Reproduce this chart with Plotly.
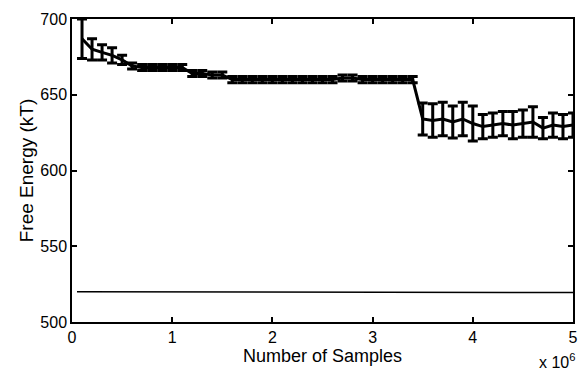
import plotly.graph_objects as go

# Sample counts (x 10^6) at which the free energy estimate was recorded
samples_millions = [i / 10 for i in range(1, 51)]

# Free energy estimate (kT) and its error-bar half-width
free_energy = [
    687, 680, 678, 676, 673, 669, 668, 668, 668, 668,
    668, 664, 664, 663, 663, 660, 660, 660, 660, 660,
    660, 660, 660, 660, 660, 660, 661, 661, 660, 660,
    660, 660, 660, 660, 634, 633, 634, 632, 634, 631,
    629, 630, 631, 630, 631, 632, 628, 630, 629, 630,
]
free_energy_err = [
    13, 7, 5, 5, 3, 2, 2, 2, 2, 2,
    2, 2, 2, 2, 2, 2, 2, 2, 2, 2,
    2, 2, 2, 2, 2, 2, 2, 2, 2, 2,
    2, 2, 2, 2, 10.5, 11, 11, 10.5, 11, 11.5,
    8, 8, 8, 9, 9, 10, 7, 8, 8, 8,
]

# Reference free energy level (kT)
ref_samples_millions = [0.05, 0.5, 1.0, 1.5, 2.0, 2.5, 3.0, 3.5, 4.0, 4.5, 5.0]
ref_energy = [520.0, 519.9, 519.8, 519.6, 519.5, 519.4, 519.4, 519.4, 519.4, 519.4, 519.4]

x_ticks = [0, 1, 2, 3, 4, 5]
y_ticks = [500, 550, 600, 650, 700]

font_family = "Liberation Sans, Arial, sans-serif"

fig = go.Figure()

fig.add_trace(go.Scatter(
    x=[v * 1e6 for v in ref_samples_millions],
    y=ref_energy,
    mode="lines",
    line=dict(color="black", width=1.5),
    showlegend=False,
))

fig.add_trace(go.Scatter(
    x=[v * 1e6 for v in samples_millions],
    y=free_energy,
    mode="lines",
    line=dict(color="black", width=3),
    error_y=dict(type="data", array=free_energy_err, visible=True,
                 color="black", thickness=3, width=5),
    showlegend=False,
))

axis_common = dict(
    showline=True, linecolor="black", linewidth=1.5, mirror="ticks",
    ticks="inside", ticklen=5, tickwidth=1.5, tickcolor="black",
    showgrid=False, zeroline=False, automargin=False,
    tickfont=dict(family=font_family, size=16, color="black"),
)

fig.update_xaxes(
    range=[0, 5e6],
    tickvals=[t * 1e6 for t in x_ticks],
    ticktext=[str(t) for t in x_ticks],
    title=dict(text="Number of Samples", standoff=4,
               font=dict(family=font_family, size=18, color="black")),
    **axis_common,
)
fig.update_yaxes(
    range=[500, 700],
    tickvals=y_ticks,
    ticktext=[str(t) for t in y_ticks],
    title=dict(text="Free Energy (kT)", standoff=2,
               font=dict(family=font_family, size=19, color="black")),
    **axis_common,
)

fig.add_annotation(
    xref="paper", yref="paper", x=1.008, y=-0.09,
    xanchor="right", yanchor="top", showarrow=False,
    text="x 10<sup>6</sup>",
    font=dict(family=font_family, size=16, color="black"),
)

fig.update_layout(
    width=579, height=376,
    margin=dict(l=72, r=6, t=19, b=54),
    paper_bgcolor="white", plot_bgcolor="white",
)

fig.write_html("out.html")
